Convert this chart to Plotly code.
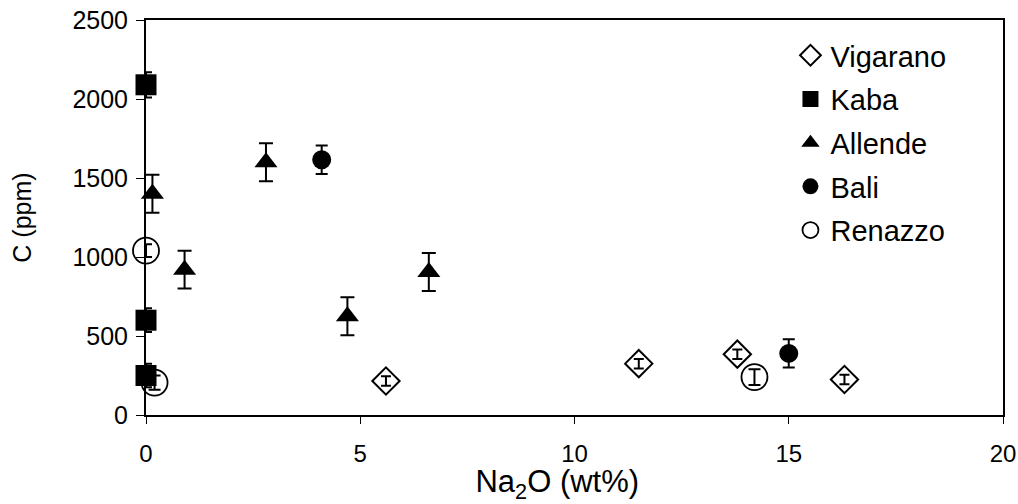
import plotly.graph_objects as go

# Data
vig_x = [5.6, 11.5, 13.8, 16.3]
vig_y = [215, 325, 385, 225]
vig_err = [30, 30, 30, 30]

kaba_x = [0, 0, 0]
kaba_y = [2090, 600, 250]
kaba_err = [80, 75, 75]

all_x = [0.15, 0.9, 2.8, 4.7, 6.6]
all_y = [1400, 920, 1600, 625, 905]
all_err = [120, 120, 120, 120, 120]

bali_x = [4.1, 15.0]
bali_y = [1615, 390]
bali_err = [90, 90]

ren_x = [0, 0.2, 14.2]
ren_y = [1040, 205, 240]
ren_err = [40, 45, 50]

x_ticks = [0, 5, 10, 15, 20]
y_ticks = [0, 500, 1000, 1500, 2000, 2500]

FONT = "Liberation Sans, Arial, sans-serif"

fig = go.Figure()

def add(name, xs, ys, errs, symbol, size, cap, fill="black", lw=0):
    fig.add_trace(go.Scatter(
        x=xs, y=ys, mode="markers", name=name, legendgroup=name,
        cliponaxis=False,
        marker=dict(symbol=symbol, size=size, color=fill,
                    line=dict(color="black", width=lw)),
        error_y=dict(type="data", array=errs, visible=True,
                     color="black", thickness=2, width=cap),
    ))

add("Vigarano", vig_x, vig_y, vig_err, "diamond-open", 21, 5, fill="black", lw=2)
add("Kaba", kaba_x, kaba_y, kaba_err, "square", 21, 6)
add("Allende", all_x, all_y, all_err, "triangle-up", 20, 7)
add("Bali", bali_x, bali_y, bali_err, "circle", 19, 6)
add("Renazzo", ren_x, ren_y, ren_err, "circle-open", 26, 6, fill="black", lw=1.8)

fig.update_layout(
    width=1018, height=504,
    margin=dict(l=146, r=15, t=20, b=89),
    paper_bgcolor="white", plot_bgcolor="white",
    font=dict(family=FONT, color="black"),
    showlegend=True,
    legend=dict(x=0.752, y=0.975, xanchor="left", yanchor="top",
                font=dict(size=29, family=FONT), bgcolor="rgba(0,0,0,0)",
                tracegroupgap=3),
    xaxis=dict(range=[0, 20], tickvals=x_ticks, ticks="outside", ticklen=7,
               tickwidth=1, tickcolor="black", automargin=False,
               ticklabeloverflow="allow",
               showgrid=False, zeroline=False, showline=True, linecolor="black",
               linewidth=2, mirror=True, ticklabelstandoff=9,
               tickfont=dict(size=24, family=FONT),
               title=dict(text="Na<sub>2</sub>O (wt%)&nbsp;&nbsp;&nbsp;&nbsp;",
                          font=dict(size=31, family=FONT), standoff=9)),
    yaxis=dict(range=[0, 2500], tickvals=y_ticks, ticks="outside", ticklen=8,
               tickwidth=1, tickcolor="black", automargin=False,
               ticklabeloverflow="allow",
               showgrid=False, zeroline=False, showline=True, linecolor="black",
               linewidth=2, mirror=True, ticklabelstandoff=3,
               tickfont=dict(size=25, family=FONT),
               title=dict(text="C (ppm)", font=dict(size=25, family=FONT),
                          standoff=34)),
)

fig.write_html(
    "out.html",
    config={"displayModeBar": False},
    post_script="document.body.style.margin='0';document.body.style.overflow='hidden';",
)
